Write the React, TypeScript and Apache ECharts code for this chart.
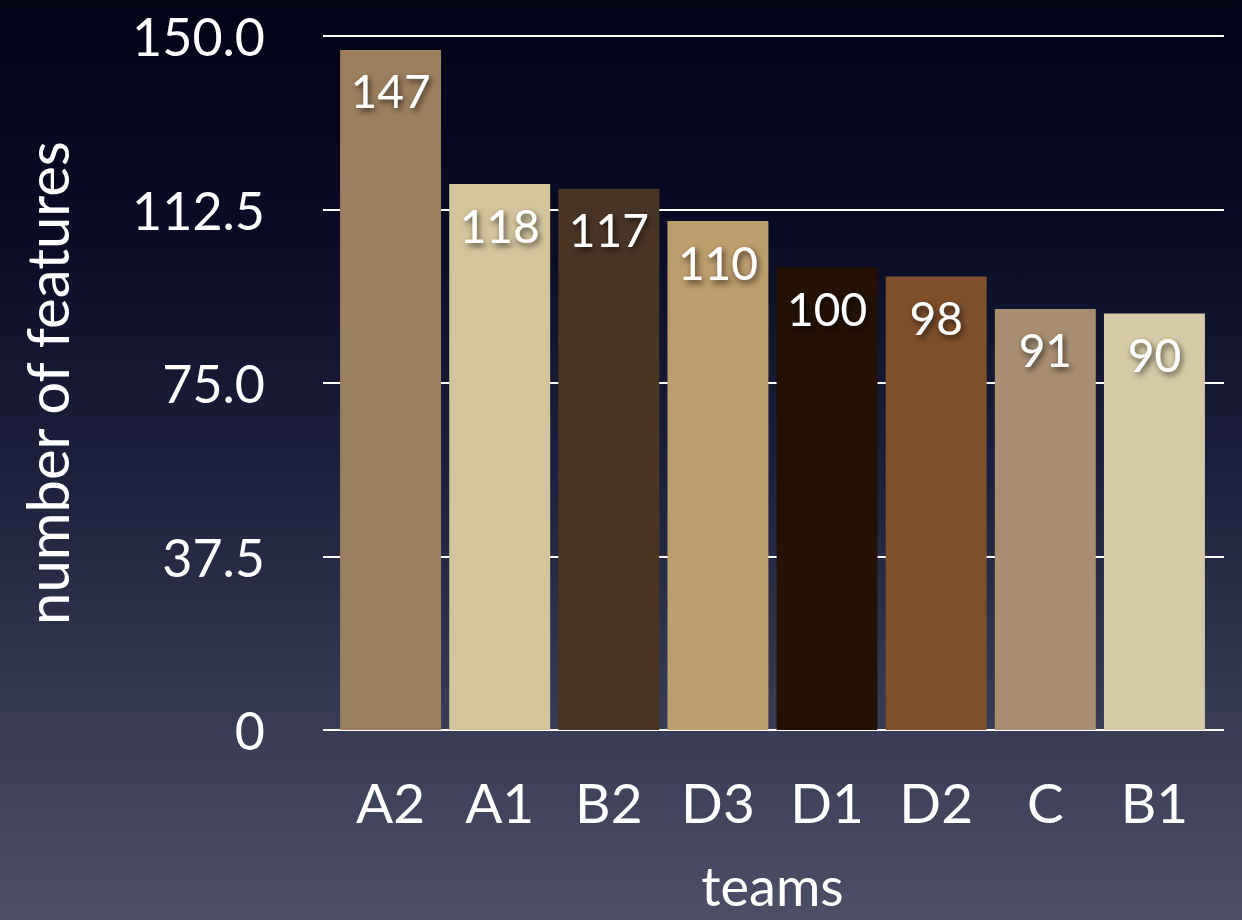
import React, { useEffect, useRef } from "react";
import * as echarts from "echarts";

const teams = ["A2", "A1", "B2", "D3", "D1", "D2", "C", "B1"];
const features = [147, 118, 117, 110, 100, 98, 91, 90];
const barColors = [
  "#9c7f5f",
  "#d3c49c",
  "#4a3525",
  "#bc9d6c",
  "#241104",
  "#7e4f2b",
  "#a88e72",
  "#d6caa6",
];
const yTicks = [0, 37.5, 75, 112.5, 150];

const FONT = "Lato, 'DejaVu Sans', sans-serif";

export default function App() {
  const ref = useRef<HTMLDivElement>(null);

  useEffect(() => {
    if (!ref.current) return;
    const chart = echarts.init(ref.current, null, { renderer: "svg" });
    const yMax = yTicks[yTicks.length - 1];
    const step = yTicks[1] - yTicks[0];

    chart.setOption({
      animation: false,
      grid: [
        { left: 323, right: 18, top: 36, bottom: 190, outerBoundsMode: "none", containLabel: false },
        { left: 336, right: 33, top: 36, bottom: 190, outerBoundsMode: "none", containLabel: false },
      ],
      xAxis: [
        { type: "value", gridIndex: 0, show: false, min: 0, max: 1 },
        {
          type: "category",
          gridIndex: 1,
          data: teams,
          axisLine: { show: false },
          axisTick: { show: false },
          axisLabel: {
            color: "#ffffff",
            fontFamily: FONT,
            fontSize: 55,
            margin: 44,
          },
          name: "teams",
          nameLocation: "middle",
          nameGap: 128,
          nameTextStyle: { color: "#ffffff", fontFamily: FONT, fontSize: 54 },
        },
      ],
      yAxis: [
        {
          type: "value",
          gridIndex: 0,
          min: 0,
          max: yMax,
          interval: step,
          axisLine: { show: false },
          axisTick: { show: false },
          splitLine: { show: true, lineStyle: { color: "#ffffff", width: 2 } },
          axisLabel: {
            color: "#ffffff",
            fontFamily: FONT,
            fontSize: 52,
            margin: 58,
            formatter: (v: number) => (v === 0 ? "0" : v.toFixed(1)),
          },
          name: "number of features",
          nameLocation: "middle",
          nameGap: 248,
          nameRotate: 90,
          nameTextStyle: { color: "#ffffff", fontFamily: FONT, fontSize: 58 },
        },
        {
          type: "value",
          gridIndex: 1,
          min: 0,
          max: yMax,
          interval: step,
          show: false,
          splitLine: { show: false },
        },
      ],
      series: [
        {
          type: "bar",
          xAxisIndex: 1,
          yAxisIndex: 1,
          barCategoryGap: "7.5%",
          data: features.map((v, i) => ({
            value: v,
            itemStyle: { color: barColors[i] },
          })),
          label: {
            show: true,
            position: ["50%", 41],
            align: "center",
            verticalAlign: "middle",
            color: "#ffffff",
            fontFamily: FONT,
            fontSize: 46,
            textShadowColor: "rgba(0,0,0,0.65)",
            textShadowBlur: 6,
            textShadowOffsetX: 2,
            textShadowOffsetY: 3,
          },
        },
      ],
    });

    return () => chart.dispose();
  }, []);

  return (
    <div
      style={{
        position: "fixed",
        left: 0,
        top: 0,
        width: 1242,
        height: 920,
        background:
          "linear-gradient(to bottom, #030416 0%, #0a0c26 25%, #1c1f3b 50%, #353852 75%, #4d4f68 100%)",
      }}
    >
      <div ref={ref} style={{ width: 1242, height: 920 }} />
    </div>
  );
}
